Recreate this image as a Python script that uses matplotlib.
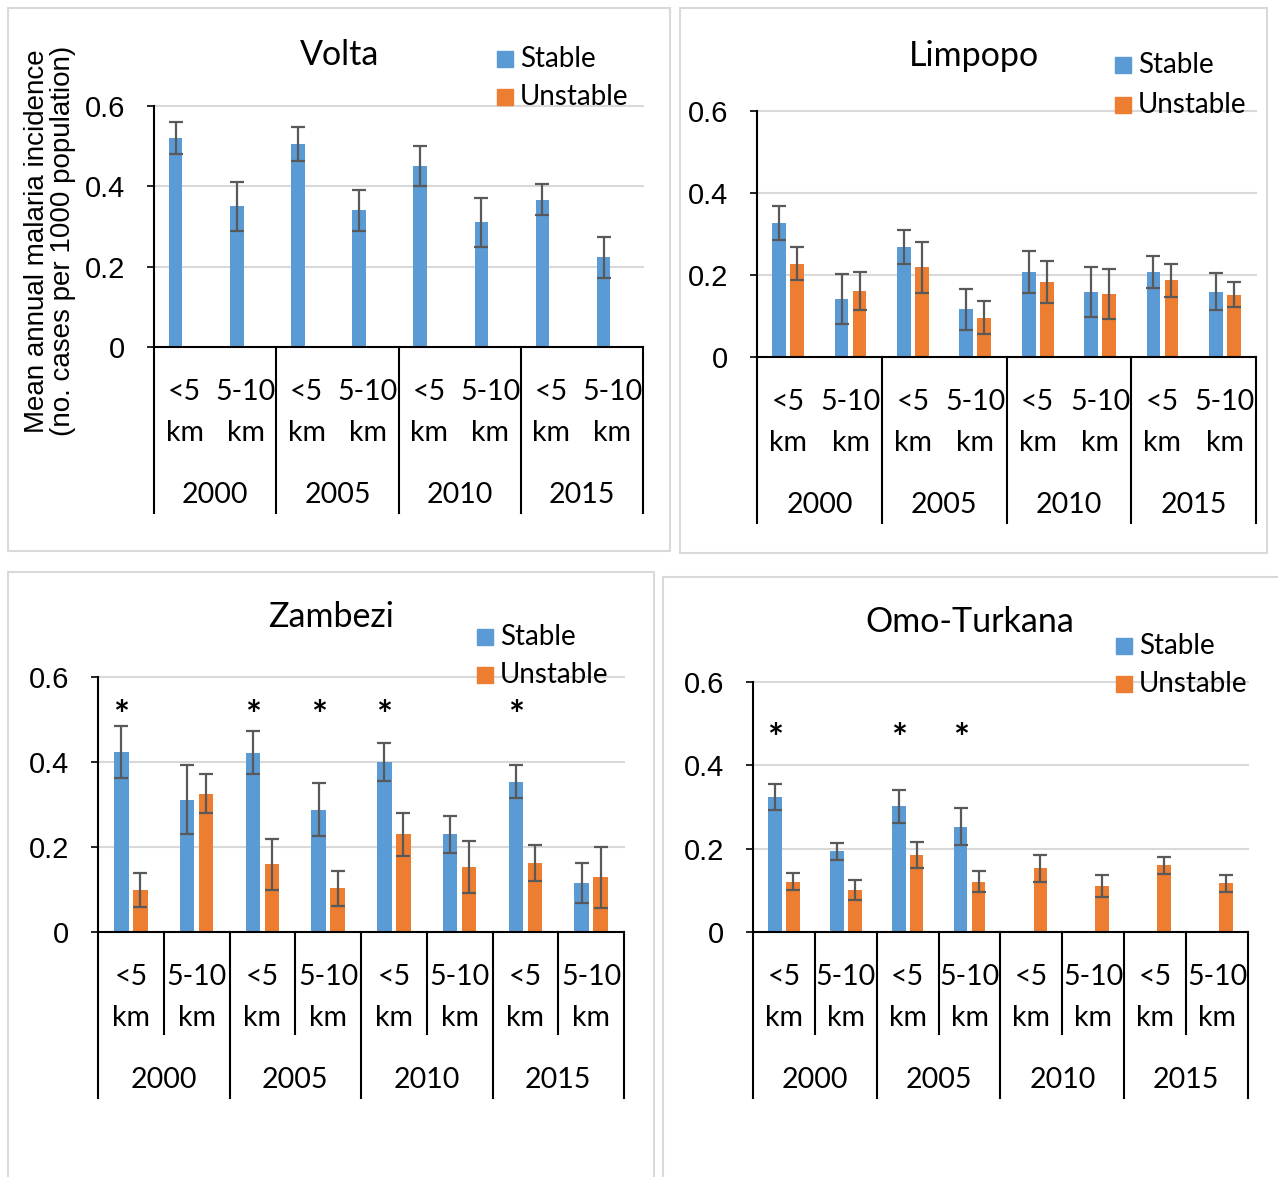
import numpy as np
import matplotlib
matplotlib.use("Agg")
import matplotlib.pyplot as plt
from matplotlib.patches import Rectangle
from matplotlib.lines import Line2D
from matplotlib.transforms import blended_transform_factory

# data
years = ["2000", "2005", "2010", "2015"]
distances = ["<5\nkm", "5-10\nkm"]

volta_stable = [0.520, 0.350, 0.505, 0.340, 0.450, 0.310, 0.367, 0.223]
volta_stable_err = [0.040, 0.060, 0.042, 0.050, 0.050, 0.061, 0.039, 0.052]
volta_unstable = [0, 0, 0, 0, 0, 0, 0, 0]
volta_unstable_err = [0, 0, 0, 0, 0, 0, 0, 0]

limpopo_stable = [0.327, 0.141, 0.268, 0.116, 0.207, 0.159, 0.207, 0.159]
limpopo_stable_err = [0.041, 0.061, 0.041, 0.051, 0.052, 0.061, 0.039, 0.045]
limpopo_unstable = [0.228, 0.161, 0.219, 0.096, 0.182, 0.153, 0.187, 0.152]
limpopo_unstable_err = [0.040, 0.046, 0.062, 0.040, 0.051, 0.061, 0.040, 0.031]

zambezi_stable = [0.424, 0.311, 0.422, 0.288, 0.400, 0.230, 0.354, 0.116]
zambezi_stable_err = [0.061, 0.081, 0.051, 0.063, 0.045, 0.044, 0.039, 0.047]
zambezi_unstable = [0.100, 0.325, 0.159, 0.103, 0.230, 0.152, 0.162, 0.129]
zambezi_unstable_err = [0.040, 0.046, 0.060, 0.041, 0.051, 0.061, 0.042, 0.072]
zambezi_sig = [1, 0, 1, 1, 1, 0, 1, 0]

omo_stable = [0.325, 0.194, 0.302, 0.253, 0, 0, 0, 0]
omo_stable_err = [0.031, 0.020, 0.040, 0.045, 0, 0, 0, 0]
omo_unstable = [0.121, 0.102, 0.185, 0.121, 0.153, 0.111, 0.160, 0.117]
omo_unstable_err = [0.021, 0.024, 0.031, 0.025, 0.033, 0.027, 0.020, 0.021]
omo_sig = [1, 0, 1, 1, 0, 0, 0, 0]

BLUE = "#5B9BD5"
ORANGE = "#ED7D31"
GRID = "#D9D9D9"
ERR = "#595959"
CAT_FONT = "Lato"
NUM_FONT = "Liberation Sans"

W, H = 1278, 1177
fig = plt.figure(figsize=(W / 100, H / 100), dpi=100)


def fx(px):
    return px / W


def fy(py):
    return 1 - py / H


panels = [
    dict(title="Volta", ax=(154, 643, 106, 347), title_xy=(340, 55), leg=(497, 59, 97),
         box=(8, 8, 670, 551), s=volta_stable, se=volta_stable_err,
         u=volta_unstable, ue=volta_unstable_err, inner=False, sig=None, sig_y=0),
    dict(title="Limpopo", ax=(757, 1256, 111, 357), title_xy=(974, 56), leg=(1115, 65, 105),
         box=(680, 8, 1267, 553), s=limpopo_stable, se=limpopo_stable_err,
         u=limpopo_unstable, ue=limpopo_unstable_err, inner=False, sig=None, sig_y=0),
    dict(title="Zambezi", ax=(98, 624, 677, 932), title_xy=(331, 617), leg=(477, 637, 675),
         box=(8, 572, 654, 1190), s=zambezi_stable, se=zambezi_stable_err,
         u=zambezi_unstable, ue=zambezi_unstable_err, inner=True, sig=zambezi_sig, sig_y=0.505),
    dict(title="Omo-Turkana", ax=(753, 1248, 682, 932), title_xy=(970, 622), leg=(1116, 646, 684),
         box=(663, 577, 1290, 1190), s=omo_stable, se=omo_stable_err,
         u=omo_unstable, ue=omo_unstable_err, inner=True, sig=omo_sig, sig_y=0.46),
]

x = np.arange(8)
bw = 0.22
off = 0.145

for p in panels:
    bx0, by0, bx1, by1 = p["box"]
    fig.patches.append(Rectangle((fx(bx0), fy(by1)), fx(bx1 - bx0), (by1 - by0) / H,
                                 transform=fig.transFigure, fill=False,
                                 edgecolor=GRID, linewidth=1.5, zorder=0))

    x0, x1, ytop, yzero = p["ax"]
    ax = fig.add_axes([fx(x0), fy(yzero), fx(x1 - x0), (yzero - ytop) / H])
    ax.set_xlim(-0.5, 7.5)
    ax.set_ylim(0, 0.6)

    for g in [0.2, 0.4, 0.6]:
        ax.axhline(g, color=GRID, lw=1.5, zorder=0, clip_on=False)

    s = np.array(p["s"])
    u = np.array(p["u"])
    ax.bar(x - off, s, bw, color=BLUE, zorder=2)
    ax.bar(x + off, u, bw, color=ORANGE, zorder=2)
    ms = s > 0
    mu = u > 0
    ax.errorbar((x - off)[ms], s[ms], yerr=np.array(p["se"])[ms], fmt="none",
                ecolor=ERR, elinewidth=1.6, capsize=4.8, capthick=1.6, zorder=3)
    ax.errorbar((x + off)[mu], u[mu], yerr=np.array(p["ue"])[mu], fmt="none",
                ecolor=ERR, elinewidth=1.6, capsize=4.8, capthick=1.6, zorder=3)

    if p["sig"] is not None:
        for i, flag in enumerate(p["sig"]):
            if flag:
                ax.text(x[i] - off, p["sig_y"], "*", ha="center", va="center",
                        fontsize=27, family=CAT_FONT, fontweight="bold")

    for sp in ["top", "right"]:
        ax.spines[sp].set_visible(False)
    ax.spines["left"].set_linewidth(1.5)
    ax.spines["bottom"].set_linewidth(1.5)
    ax.set_xticks([])
    ax.set_yticks([0, 0.2, 0.4, 0.6])
    ax.set_yticklabels(["0", "0.2", "0.4", "0.6"], family=NUM_FONT, fontsize=21)
    ax.tick_params(axis="y", direction="out", length=5, width=1.2, pad=16)

    # category axis drawn below the plot
    tr = blended_transform_factory(ax.transData, fig.transFigure)
    seps_long = [-0.5, 1.5, 3.5, 5.5, 7.5]
    for sx in seps_long:
        ax.add_line(Line2D([sx, sx], [fy(yzero), fy(yzero + 166)], transform=tr,
                           color="black", lw=1.5, clip_on=False))
    if p["inner"]:
        for sx in [0.5, 2.5, 4.5, 6.5]:
            ax.add_line(Line2D([sx, sx], [fy(yzero), fy(yzero + 102)], transform=tr,
                               color="black", lw=1.5, clip_on=False))
    for i in range(8):
        top, bot = distances[i % 2].split("\n")
        ax.text(x[i], fy(yzero + 45), top, transform=tr, ha="center", va="center",
                fontsize=20.5, family=CAT_FONT)
        ax.text(x[i], fy(yzero + 86), bot, transform=tr, ha="center", va="center",
                fontsize=20.5, family=CAT_FONT)
    for k, yr in enumerate(years):
        ax.text(2 * k + 0.5, fy(yzero + 148), yr, transform=tr, ha="center", va="center",
                fontsize=20.5, family=CAT_FONT)

    tx, ty = p["title_xy"]
    fig.text(fx(tx), fy(ty), p["title"], ha="center", va="center", fontsize=24.5, family=CAT_FONT)

    lx, ly1, ly2 = p["leg"]
    for ly, lab, col in [(ly1, "Stable", BLUE), (ly2, "Unstable", ORANGE)]:
        fig.patches.append(Rectangle((fx(lx), fy(ly + 8)), fx(16), 16 / H,
                                     transform=fig.transFigure, color=col))
        fig.text(fx(lx + 23), fy(ly), lab, ha="left", va="center", fontsize=20, family=CAT_FONT)

fig.text(fx(50), fy(241), "Mean annual malaria incidence\n(no. cases per 1000 population)",
         rotation=90, ha="center", va="center", fontsize=20, family=NUM_FONT, linespacing=1.0)

fig.savefig("out.png", dpi=100)
